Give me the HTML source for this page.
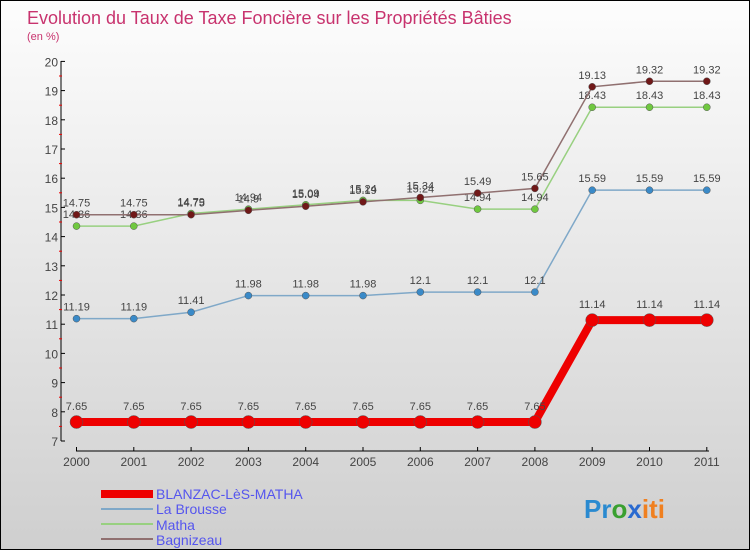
<!DOCTYPE html>
<html><head><meta charset="utf-8"><style>
body{margin:0;}
#wrap{width:750px;height:550px;position:relative;box-sizing:border-box;border:1px solid #000;background:linear-gradient(#fdfdfd,#cfcfcf);font-family:"Liberation Sans",sans-serif;overflow:hidden}
svg{position:absolute;left:0;top:0}
</style></head><body>
<div id="wrap">
<svg id="c" width="750" height="550">
<text x="26" y="23" font-size="18" fill="#c8336e">Evolution du Taux de Taxe Foncière sur les Propriétés Bâties</text>
<text x="26" y="39" font-size="11" fill="#c8336e">(en %)</text>
<g id="ax"></g><g id="series"></g>
<g>
<rect x="100" y="489" width="52" height="8" fill="#e00"/>
<text x="155" y="498" font-size="14" fill="#5555ee">BLANZAC-LèS-MATHA</text>
<rect x="100" y="507" width="52" height="2" fill="#7fa8c8"/>
<text x="155" y="513" font-size="14" fill="#5555ee">La Brousse</text>
<rect x="100" y="522" width="52" height="2" fill="#98d080"/>
<text x="155" y="529" font-size="14" fill="#5555ee">Matha</text>
<rect x="100" y="537" width="52" height="2" fill="#907070"/>
<text x="155" y="544" font-size="14" fill="#5555ee">Bagnizeau</text>
</g>
<g font-size="26" font-weight="bold">
<text x="583" y="517"><tspan fill="#2a8ad0">Pr</tspan><tspan fill="#3aa030">o</tspan><tspan fill="#2a6ad0">x</tspan><tspan fill="#f08020">iti</tspan></text>
</g>
</svg>
</div>
<script>
const years=["2000","2001","2002","2003","2004","2005","2006","2007","2008","2009","2010","2011"];
const yTicks=[7,8,9,10,11,12,13,14,15,16,17,18,19,20];
const blanzac=[7.65,7.65,7.65,7.65,7.65,7.65,7.65,7.65,7.65,11.14,11.14,11.14];
const laBrousse=[11.19,11.19,11.41,11.98,11.98,11.98,12.1,12.1,12.1,15.59,15.59,15.59];
const matha=[14.36,14.36,14.79,14.94,15.09,15.24,15.24,14.94,14.94,18.43,18.43,18.43];
const bagnizeau=[14.75,14.75,14.75,14.9,15.04,15.19,15.34,15.49,15.65,19.13,19.32,19.32];
const NS="http://www.w3.org/2000/svg";
const X=i=>75.5+i*57.3, Y=v=>440-(v-7)*29.2;
function mk(t,a,p){const e=document.createElementNS(NS,t);for(const k in a)e.setAttribute(k,a[k]);p.appendChild(e);return e;}
const ax=document.getElementById('ax');
let l=mk('line',{x1:60,y1:60,x2:60,y2:440,stroke:'#000'},ax);


l=mk('line',{x1:75,y1:450,x2:708,y2:450,stroke:'#000'},ax);


yTicks.forEach(v=>{
  mk('line',{x1:60,y1:Y(v),x2:64,y2:Y(v),stroke:'#000'},ax);
  if(v<20)mk('line',{x1:58,y1:Y(v+0.5),x2:61,y2:Y(v+0.5),stroke:'#e00'},ax);
  const t=mk('text',{x:57,y:Y(v)+5,'text-anchor':'end','font-size':12,fill:'#444'},ax);t.textContent=v;
  
  
});
years.forEach((y,i)=>{
  mk('line',{x1:X(i),y1:446,x2:X(i),y2:450,stroke:'#000'},ax);
  const t=mk('text',{x:X(i),y:465,'text-anchor':'middle','font-size':12,fill:'#444'},ax);t.textContent=y;
  
  
});
const sg=document.getElementById('series');
function series(name,data,color,dot,w,r,off){
  const g=mk('g',{},sg);
  
  
  const p=mk('polyline',{points:data.map((v,i)=>X(i)+','+Y(v)).join(' '),fill:'none',stroke:color,'stroke-width':w},g);
  
  
  data.forEach((v,i)=>{
    const c=mk('circle',{cx:X(i),cy:Y(v),r:r,fill:dot,stroke:'#555','stroke-width':0.5},g);
    
    
    const t=mk('text',{x:X(i),y:Y(v)-off,'text-anchor':'middle','font-size':11,fill:'#444'},g);t.textContent=v;
    
    
  });
}
series('la-brousse',laBrousse,'#7fa8c8','#3a8ac8',1.5,3.5,8);
series('matha',matha,'#98d080','#70c840',1.5,3.5,8);
series('bagnizeau',bagnizeau,'#907070','#701818',1.5,3.5,8);
series('blanzac',blanzac,'#e00','#e00',8,6.5,12);
</script>
</body></html>
